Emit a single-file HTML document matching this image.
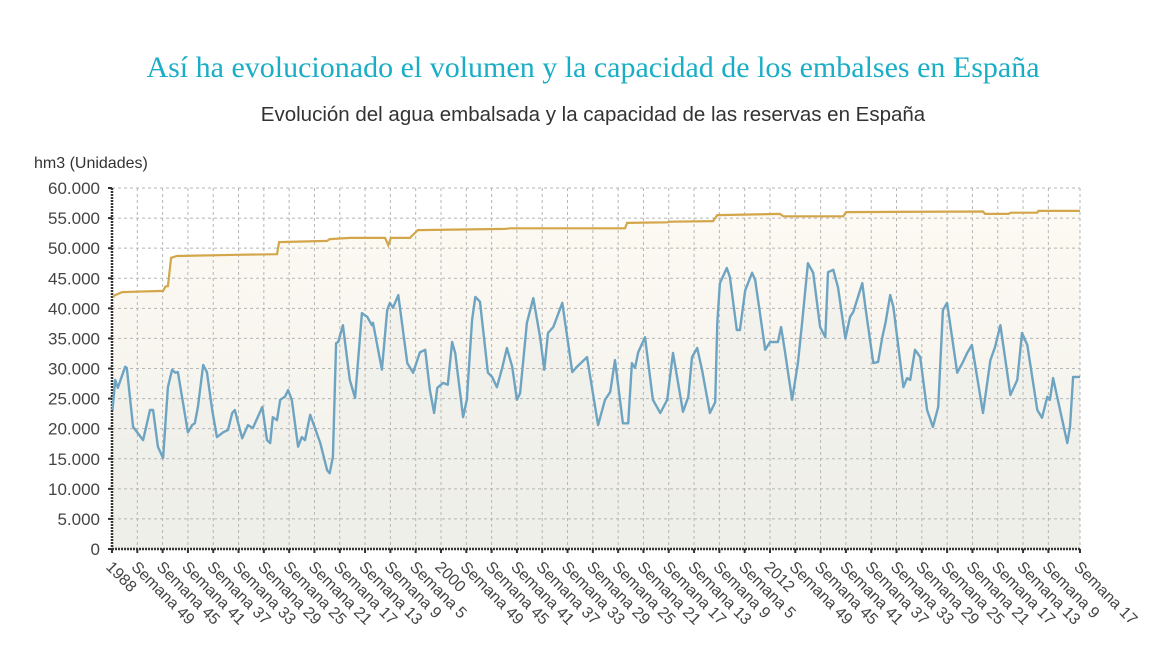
<!DOCTYPE html>
<html><head><meta charset="utf-8">
<style>
body{margin:0;background:#fff;width:1175px;height:651px;overflow:hidden;font-family:"Liberation Sans",sans-serif;}
</style></head>
<body>
<svg id="chart" width="1175" height="651" xmlns="http://www.w3.org/2000/svg">
<defs>
<linearGradient id="capFill" x1="0" y1="0" x2="0" y2="1">
<stop offset="0" stop-color="#fdfaf2"/><stop offset="1" stop-color="#efefea"/>
</linearGradient>
</defs>
<text x="593" y="77" text-anchor="middle" font-family="Liberation Serif, serif" font-size="30" fill="#1aaec6">Así ha evolucionado el volumen y la capacidad de los embalses en España</text>
<text x="593" y="121" text-anchor="middle" font-size="20.5" fill="#333">Evolución del agua embalsada y la capacidad de las reservas en España</text>
<text x="34" y="168" font-size="16" fill="#333">hm3 (Unidades)</text>
<g id="plot"></g>
</svg>
<script>
const yTicks=[0,5000,10000,15000,20000,25000,30000,35000,40000,45000,50000,55000,60000];
const xTickLabels=["1988","Semana 49","Semana 45","Semana 41","Semana 37","Semana 33","Semana 29","Semana 25","Semana 21","Semana 17","Semana 13","Semana 9","Semana 5","2000","Semana 49","Semana 45","Semana 41","Semana 37","Semana 33","Semana 29","Semana 25","Semana 21","Semana 17","Semana 13","Semana 9","Semana 5","2012","Semana 49","Semana 45","Semana 41","Semana 37","Semana 33","Semana 29","Semana 25","Semana 21","Semana 17","Semana 13","Semana 9"];
const xTickWeeks=xTickLabels.map((_,i)=>i*48);
const endWeek=1836;
const endLabel="Semana 17";
const volWeeks=[1,6,11,25,28,40,59,72,78,87,97,106,114,120,125,144,152,157,163,173,180,190,199,211,220,228,233,247,258,267,285,294,300,305,313,319,328,334,341,353,360,366,376,385,395,408,413,419,425,429,438,451,461,474,484,493,495,512,522,527,533,543,560,571,584,594,603,611,617,628,637,645,651,666,673,683,689,698,713,721,730,740,749,759,768,774,787,799,812,820,827,837,854,873,882,901,922,935,945,954,969,979,986,992,998,1011,1026,1040,1053,1064,1083,1093,1100,1110,1119,1134,1144,1148,1153,1166,1172,1185,1191,1201,1214,1220,1239,1248,1263,1269,1276,1290,1301,1309,1320,1330,1343,1353,1358,1368,1377,1391,1400,1406,1423,1429,1444,1453,1461,1467,1476,1482,1501,1508,1514,1523,1533,1546,1557,1567,1576,1584,1603,1614,1622,1631,1652,1666,1675,1685,1704,1717,1726,1736,1755,1764,1774,1779,1785,1812,1817,1823,1836];
const volValues=[23100,28100,26800,30300,30100,20300,18100,23100,23100,17000,15100,26900,29800,29300,29400,19400,20600,20900,23600,30600,29400,23100,18600,19400,19800,22600,23100,18400,20600,20100,23600,18100,17600,21900,21400,24800,25300,26400,24800,17000,18600,18100,22300,20100,17600,13100,12600,15300,34200,34400,37200,28100,25100,39200,38600,37200,37600,29800,39700,40900,40100,42200,30900,29300,32700,33100,26400,22600,26800,27600,27300,34400,32600,21900,24800,38100,41900,41100,29300,28600,26900,30100,33400,30300,24800,25900,37600,41700,35200,29800,35900,36900,40900,29400,30300,31900,20600,24800,26100,31400,20900,20900,30900,30100,32700,35200,24800,22600,24800,32600,22800,25300,31900,33400,29800,22600,24400,37600,44200,46700,45200,36400,36400,43000,45900,44700,33100,34400,34400,36900,33100,24800,30900,37600,47500,45900,36900,35200,46000,46400,43500,35000,38600,39400,44200,40200,30900,31100,35200,37600,42200,40200,26900,28400,28100,33100,31900,23100,20300,23600,39700,40900,29300,31100,32600,33900,22600,31400,33600,37200,25600,28100,35900,33900,23100,21800,25300,24800,28400,17600,20300,28600,28600];
const capWeeks=[2,6,19,97,101,106,112,123,237,313,317,408,413,451,518,524,529,565,580,746,755,907,973,977,1053,1059,1140,1148,1267,1273,1387,1392,1652,1656,1700,1705,1755,1757,1836];
const capValues=[41900,42200,42700,42900,43600,43700,48400,48700,48900,49000,51000,51200,51500,51700,51700,50500,51700,51700,53000,53200,53300,53300,53300,54200,54300,54400,54500,55500,55700,55300,55300,56000,56100,55700,55700,55900,55900,56200,56200];

const X0=112,X1=1080,Y0=549,Y1=188;
const xs=w=>X0+w*(X1-X0)/endWeek;
const ys=v=>Y0-v*(Y0-Y1)/60000;
const NS="http://www.w3.org/2000/svg";
const plot=document.getElementById('plot');
function mk(tag,attrs){const e=document.createElementNS(NS,tag);for(const k in attrs)e.setAttribute(k,attrs[k]);plot.appendChild(e);return e;}

let capPts=capWeeks.map((w,i)=>xs(w).toFixed(1)+','+ys(capValues[i]).toFixed(1));
const capArea=mk('polygon',{points:xs(capWeeks[0])+','+Y0+' '+capPts.join(' ')+' '+xs(endWeek)+','+Y0,fill:'url(#capFill)'});


let volPts=volWeeks.map((w,i)=>xs(w).toFixed(1)+','+ys(volValues[i]).toFixed(1));
const volArea=mk('polygon',{points:xs(volWeeks[0])+','+Y0+' '+volPts.join(' ')+' '+xs(endWeek)+','+Y0,fill:'#eeeee9',opacity:'0.6'});



yTicks.forEach(v=>{
  if(v>0){const g=mk('line',{x1:X0,x2:X1,y1:ys(v),y2:ys(v),stroke:'#b5b5b5','stroke-dasharray':'3,3'});
  
  }
  const t=mk('text',{x:100,y:ys(v)+6,'text-anchor':'end','font-size':'17',fill:'#444'});
  t.textContent=v===0?'0':v.toLocaleString('de-DE');
  
  
  mk('line',{x1:X0-4,x2:X0,y1:ys(v),y2:ys(v),stroke:'#333','stroke-width':2});
});
const allTicks=xTickWeeks.concat([endWeek]);
const allLabels=xTickLabels.concat([endLabel]);
allTicks.forEach((w,i)=>{
  const x=xs(w);
  if(i>0){const g=mk('line',{x1:x,x2:x,y1:Y1,y2:Y0,stroke:'#b5b5b5','stroke-dasharray':'3,3'});
  
  }
  mk('line',{x1:x,x2:x,y1:Y0,y2:Y0+4,stroke:'#333','stroke-width':2});
  const t=mk('text',{x:x-4,y:Y0+20,'font-size':'16',fill:'#444',transform:`rotate(45 ${x-4} ${Y0+16})`});
  t.textContent=allLabels[i];
  
  
});
const ya=mk('line',{x1:X0,x2:X0,y1:Y1,y2:Y0+1,stroke:'#333','stroke-width':2.5,'stroke-dasharray':'2,1'});


const xa=mk('line',{x1:X0,x2:X1,y1:Y0,y2:Y0,stroke:'#333','stroke-width':2.5,'stroke-dasharray':'2,1'});



const capLine=mk('polyline',{points:capPts.join(' '),fill:'none',stroke:'#d4a64b','stroke-width':2.2});


const volLine=mk('polyline',{points:volPts.join(' '),fill:'none',stroke:'#6ea4c2','stroke-width':2.4,'stroke-linejoin':'round'});


</script>
</body></html>
